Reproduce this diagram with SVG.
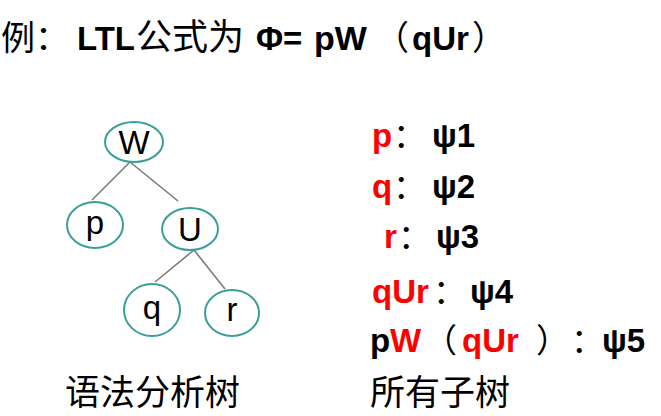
<svg xmlns="http://www.w3.org/2000/svg" width="661" height="416" viewBox="0 0 661 416">
<style>
.cjk{font-family:"Noto Sans CJK SC","Noto Sans CJK JP",sans-serif;font-weight:400;fill:#000}
.lb{font-family:"Liberation Sans",Arial,sans-serif;font-weight:700;fill:#000}
.red{fill:#ff0000}
.node ellipse{fill:#fff;stroke:#3a9e9a;stroke-width:2}
.node text{font-family:"Liberation Sans",Arial,sans-serif;font-size:33px;fill:#000;text-anchor:middle}
#connectors line{stroke:#7a7a7a;stroke-width:1.6}
</style>
<rect width="661" height="416" fill="#fff"/>
<g id="title">
<text y="50" font-size="34"><tspan class="cjk" x="1">例</tspan><tspan class="cjk" x="35">：</tspan><tspan class="lb" x="77" font-size="33">LTL</tspan><tspan class="cjk" x="136" font-size="36">公式为</tspan><tspan class="lb" x="256" font-size="33">Φ=</tspan><tspan class="lb" x="314" font-size="34">pW</tspan><tspan class="cjk" x="375">（</tspan><tspan class="lb" x="412" font-size="33">qUr</tspan><tspan class="cjk" x="472">）</tspan></text>
</g>
<g id="connectors">
<line x1="130" y1="162" x2="92" y2="200"/>
<line x1="130" y1="162" x2="178" y2="201"/>
<line x1="194" y1="250" x2="155" y2="282"/>
<line x1="194" y1="250" x2="225" y2="289"/>
</g>
<g id="node-W" class="node"><ellipse cx="134" cy="142" rx="29" ry="20"/><text x="134" y="154">W</text></g>
<g id="node-p" class="node"><ellipse cx="95" cy="225" rx="28" ry="23"/><text x="95" y="234">p</text></g>
<g id="node-U" class="node"><ellipse cx="190" cy="229" rx="28" ry="21"/><text x="190" y="241">U</text></g>
<g id="node-q" class="node"><ellipse cx="152" cy="310" rx="28" ry="26"/><text x="152" y="319">q</text></g>
<g id="node-r" class="node"><ellipse cx="232" cy="313" rx="27" ry="23"/><text x="232" y="321">r</text></g>
<g id="subtrees" font-size="33">
<text y="147"><tspan class="lb red" x="372">p</tspan><tspan class="cjk" x="393">：</tspan><tspan class="lb" x="432">ψ1</tspan></text>
<text y="198"><tspan class="lb red" x="372">q</tspan><tspan class="cjk" x="393">：</tspan><tspan class="lb" x="432">ψ2</tspan></text>
<text y="248"><tspan class="lb red" x="384">r</tspan><tspan class="cjk" x="398">：</tspan><tspan class="lb" x="436">ψ3</tspan></text>
<text y="303"><tspan class="lb red" x="372">qUr</tspan><tspan class="cjk" x="433">：</tspan><tspan class="lb" x="470">ψ4</tspan></text>
<text y="352"><tspan class="lb" x="370">p</tspan><tspan class="lb red" x="390">W</tspan><tspan class="cjk" x="424">（</tspan><tspan class="lb red" x="462">qUr</tspan><tspan class="cjk" x="536">）</tspan><tspan class="cjk" x="571">：</tspan><tspan class="lb" x="602">ψ5</tspan></text>
</g>
<g id="captions" class="cjk" font-size="35">
<text x="65" y="405">语法分析树</text>
<text x="370" y="405">所有子树</text>
</g>
</svg>
